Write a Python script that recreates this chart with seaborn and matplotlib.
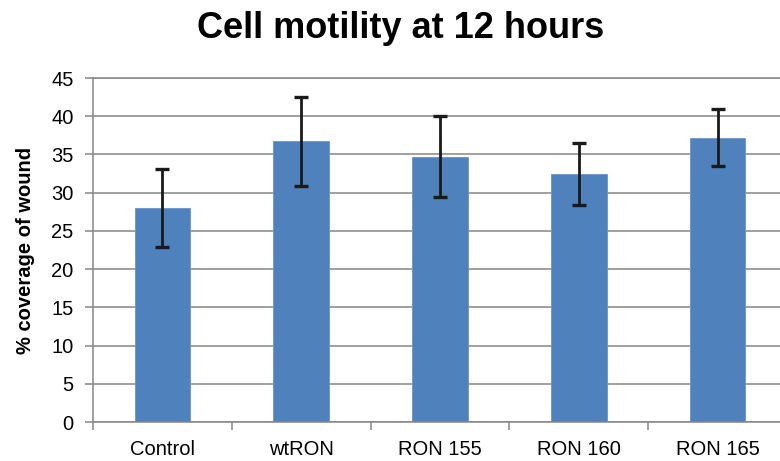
import matplotlib
matplotlib.use("Agg")
import matplotlib.pyplot as plt
import seaborn as sns
import pandas as pd
import numpy as np

categories = ["Control", "wtRON", "RON 155", "RON 160", "RON 165"]
values = [28.0, 36.7, 34.7, 32.4, 37.2]
errors = [5.1, 5.8, 5.3, 4.05, 3.7]
yticks = [0, 5, 10, 15, 20, 25, 30, 35, 40, 45]

sns.set_theme(style="white")
plt.rcParams["font.family"] = ["Liberation Sans", "DejaVu Sans"]
plt.rcParams["text.color"] = "black"
plt.rcParams["axes.labelcolor"] = "black"

df = pd.DataFrame({"cat": categories, "val": values, "err": errors})

fig = plt.figure(figsize=(7.8, 4.61), dpi=100)
ax = fig.add_axes([93 / 780, 1 - 422 / 461, (787 - 93) / 780, (422 - 78) / 461])

sns.barplot(data=df, x="cat", y="val", color="#4F81BD", saturation=1,
            width=0.4, errorbar=None, ax=ax, zorder=2, edgecolor="#6A95CC", linewidth=0.6)
xpos = np.arange(len(categories))
ax.errorbar(xpos, df["val"], yerr=df["err"], fmt="none", ecolor="#1a1a1a",
            elinewidth=2.0, capsize=5, capthick=2.4, zorder=3)

ax.set_xlim(-0.5, len(categories) - 0.5)
ax.set_ylim(0, 45)
ax.set_yticks(yticks)
ax.yaxis.grid(True, color="#868686", linewidth=1.1, zorder=0)
ax.set_axisbelow(True)

for s in ["left", "bottom", "top", "right"]:
    ax.spines[s].set_color("#868686")
    ax.spines[s].set_linewidth(1.1)

ax.set_xticks(xpos)
ax.set_xticklabels(categories)
ax.set_xticks(np.arange(-0.5, len(categories)), minor=True)
ax.tick_params(axis="x", which="major", length=0, pad=13, labelsize=14.5, labelcolor="black")
ax.tick_params(axis="x", which="minor", length=6, width=1.1, color="#868686", direction="out", bottom=True)
ax.tick_params(axis="y", which="major", length=6, width=1.1, color="#868686", direction="out",
               left=True, pad=8, labelsize=14.5, labelcolor="black")

ax.set_xlabel("")
ax.set_ylabel("% coverage of wound", fontsize=14.5, fontweight="bold", labelpad=12)
fig.suptitle("Cell motility at 12 hours", x=401 / 780, y=1 - 11 / 461, va="top",
             fontsize=26, fontweight="bold", color="black")

fig.savefig("out.png", dpi=100)
